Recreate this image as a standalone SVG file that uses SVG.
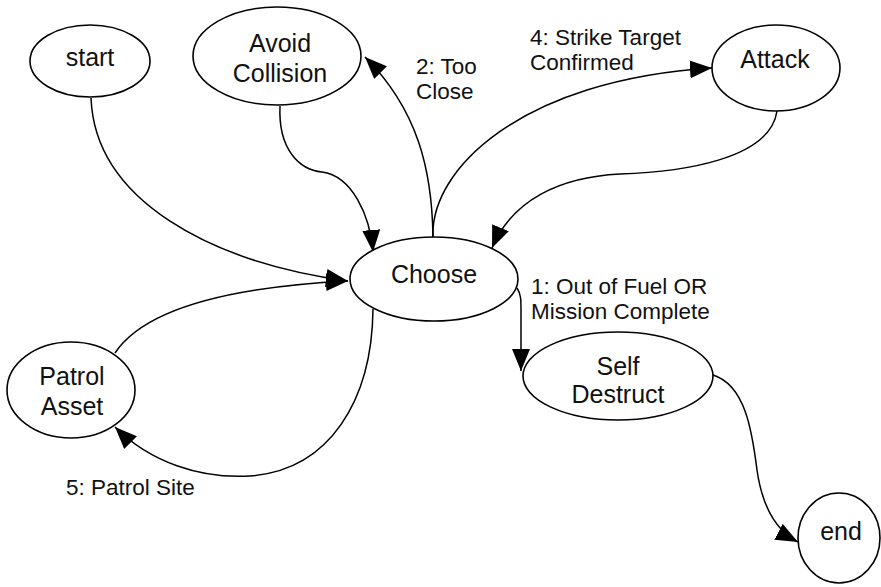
<svg xmlns="http://www.w3.org/2000/svg" width="881" height="587" viewBox="0 0 881 587">
  <style>
    .node ellipse { fill: #ffffff; stroke: #000000; stroke-width: 1.6; }
    .node text { font-family: "Liberation Sans", Arial, sans-serif; font-size: 25px; text-anchor: middle; fill: #111111; }
    .edges path { fill: none; stroke: #000000; stroke-width: 1.5; marker-end: url(#arrow); }
    .label { font-family: "Liberation Sans", Arial, sans-serif; font-size: 22.5px; fill: #111111; }
  </style>
  <defs>
    <marker id="arrow" markerUnits="userSpaceOnUse" markerWidth="24" markerHeight="20" refX="22" refY="9" orient="auto">
      <path d="M0,0 L22,9 L0,18 z" fill="#000000"/>
    </marker>
  </defs>
  <rect width="881" height="587" fill="#ffffff"/>

  <!-- transitions -->
  <g id="edges" class="edges">
    <path d="M91,98 C95,200 210,262 348,281"/>
    <path d="M115,353 C145,308 230,287 348,281"/>
    <path d="M280,106 C278,150 300,170 322,172 C352,176 370,215 373,252"/>
    <path d="M433,237 C432,170 418,110 365,57"/>
    <path d="M433,237 C430,170 520,80 712,68"/>
    <path d="M777,111 C770,160 680,172 620,174 C560,177 512,200 492,248"/>
    <path d="M373,309 C372,400 330,470 250,476 C200,479 150,462 115,427"/>
    <path d="M517,288 C521,294 521,300 521,310 L521,371"/>
    <path d="M713,375 C745,385 752,430 757,470 C762,505 775,530 798,542"/>
  </g>

  <!-- transition labels -->
  <g id="edge-labels">
    <text class="label" x="416" y="74">2: Too</text>
    <text class="label" x="416" y="99">Close</text>
    <text class="label" x="530" y="45">4: Strike Target</text>
    <text class="label" x="530" y="70">Confirmed</text>
    <text class="label" x="531" y="294">1: Out of Fuel OR</text>
    <text class="label" x="531" y="319">Mission Complete</text>
    <text class="label" x="66" y="495">5: Patrol Site</text>
  </g>

  <!-- states -->
  <g id="start" class="node">
    <ellipse cx="90" cy="61" rx="60" ry="36"/>
    <text x="90" y="66">start</text>
  </g>
  <g id="avoid-collision" class="node">
    <ellipse cx="277" cy="56" rx="84" ry="49"/>
    <text x="280" y="52">Avoid</text>
    <text x="280" y="82">Collision</text>
  </g>
  <g id="attack" class="node">
    <ellipse cx="776" cy="68" rx="64" ry="43"/>
    <text x="775" y="68">Attack</text>
  </g>
  <g id="choose" class="node">
    <ellipse cx="434" cy="279" rx="84" ry="42"/>
    <text x="434" y="283">Choose</text>
  </g>
  <g id="patrol-asset" class="node">
    <ellipse cx="71" cy="390" rx="64" ry="48"/>
    <text x="72" y="385">Patrol</text>
    <text x="72" y="415">Asset</text>
  </g>
  <g id="self-destruct" class="node">
    <ellipse cx="618" cy="376" rx="95" ry="44"/>
    <text x="618" y="375">Self</text>
    <text x="618" y="403">Destruct</text>
  </g>
  <g id="end" class="node">
    <ellipse cx="839" cy="538" rx="41" ry="45"/>
    <text x="841" y="540">end</text>
  </g>
</svg>
